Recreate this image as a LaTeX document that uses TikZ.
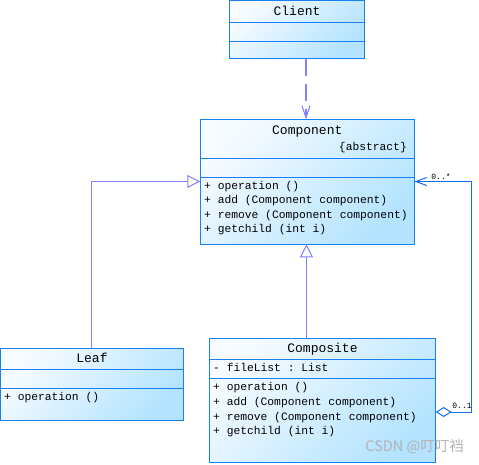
\documentclass[tikz,border=0pt]{standalone}
\usepackage{fontspec}
\setmonofont{Liberation Mono}
\newfontfamily\cjk{Noto Sans CJK SC}
\usetikzlibrary{arrows.meta}
\definecolor{umlborder}{RGB}{24,128,240}
\definecolor{umlfill}{RGB}{179,227,255}
\definecolor{umltop}{RGB}{246,251,255}
\definecolor{umllink}{RGB}{128,128,255}
\definecolor{assoc}{RGB}{20,110,240}
\begin{document}
\begin{tikzpicture}[x=1pt,y=-1pt,
  classbox/.style={draw=umlborder, line width=1pt, top color=umltop, bottom color=umlfill, shading angle=45, anchor=north west, inner sep=0pt, outer sep=0pt},
  sep/.style={draw=umlborder, line width=1pt},
  title/.style={font=\ttfamily\fontsize{13}{15}\selectfont, inner sep=0pt, anchor=center, text height=9pt, text depth=0pt},
  member/.style={font=\ttfamily\fontsize{11.3}{13}\selectfont, inner sep=0pt, anchor=west, text height=8pt, text depth=2pt},
  mult/.style={font=\ttfamily\fontsize{8}{9}\selectfont, inner sep=0pt, text height=5pt, text depth=0pt},
  gen/.style={draw=umllink, line width=1pt, -{Triangle[open, length=13pt, width=13pt, fill=white]}},
]
\useasboundingbox[fill=white] (0,0) rectangle (479,464);

% Client
\node[classbox, minimum width=134.5pt, minimum height=58pt] (client) at (229.5,0.5) {};
\draw[sep] (client.west |- 0,22.7) -- (client.east |- 0,22.7);
\draw[sep] (client.west |- 0,41.7) -- (client.east |- 0,41.7);
\node[title] (clientname) at (297,11) {Client};

% Component
\node[classbox, minimum width=214pt, minimum height=125pt] (component) at (200.3,119.3) {};
\draw[sep] (component.west |- 0,158.7) -- (component.east |- 0,158.7);
\draw[sep] (component.west |- 0,177) -- (component.east |- 0,177);
\node[title] (componentname) at (307.3,129.5) {Component};
\node[member, anchor=east] (abstract) at (407,147) {\{abstract\}};
\node[member] (cop1) at (204,186) {+ operation ()};
\node[member] (cop2) at (204,200.5) {+ add (Component component)};
\node[member] (cop3) at (204,215) {+ remove (Component component)};
\node[member] (cop4) at (204,229.5) {+ getchild (int i)};

% Leaf
\node[classbox, minimum width=183pt, minimum height=71.7pt] (leaf) at (0.5,348.3) {};
\draw[sep] (leaf.west |- 0,369.3) -- (leaf.east |- 0,369.3);
\draw[sep] (leaf.west |- 0,388.7) -- (leaf.east |- 0,388.7);
\node[title] (leafname) at (92,357.5) {Leaf};
\node[member] (lop1) at (4,397) {+ operation ()};

% Composite
\node[classbox, minimum width=226.4pt, minimum height=124pt] (composite) at (209.3,338.3) {};
\draw[sep] (composite.west |- 0,359.3) -- (composite.east |- 0,359.3);
\draw[sep] (composite.west |- 0,378.3) -- (composite.east |- 0,378.3);
\node[title] (compositename) at (322.5,347.5) {Composite};
\node[member] (attr1) at (213,368) {- fileList : List};
\node[member] (pop1) at (213,387.3) {+ operation ()};
\node[member] (pop2) at (213,402) {+ add (Component component)};
\node[member] (pop3) at (213,417) {+ remove (Component component)};
\node[member] (pop4) at (213,431.7) {+ getchild (int i)};

% Dependency Client -> Component
\draw[umllink, line width=2pt, dash pattern=on 17pt off 8pt,
  -{Straight Barb[length=12pt, width=8pt, line width=1pt]}]
  (client.south -| 306,0) -- (component.north -| 306,0);

% Generalizations
\draw[gen] (leaf.north -| 91.5,0) |- (component.west |- 0,181.5);
\draw[gen] (composite.north -| 306.5,0) -- (component.south -| 306.5,0);

% Aggregation
\coordinate (bend) at (471.5,412);
\draw[assoc, line width=1pt,
  {Straight Barb[length=11pt, width=8pt, line width=1pt]}-{Diamond[open, length=16pt, width=10pt, fill=white]}]
  (component.east |- 0,181.5) -| (bend) -- (composite.east |- bend);
\node[mult] (m1) at (441,176.5) {0..*};
\node[mult] (m2) at (462,405.5) {0..1};

% Watermark
\node[text=black!30, font=\cjk\fontsize{14.5}{16}\selectfont, inner sep=0pt, anchor=east] (wm) at (464,447) {CSDN @叮叮裆};
\end{tikzpicture}
\end{document}
